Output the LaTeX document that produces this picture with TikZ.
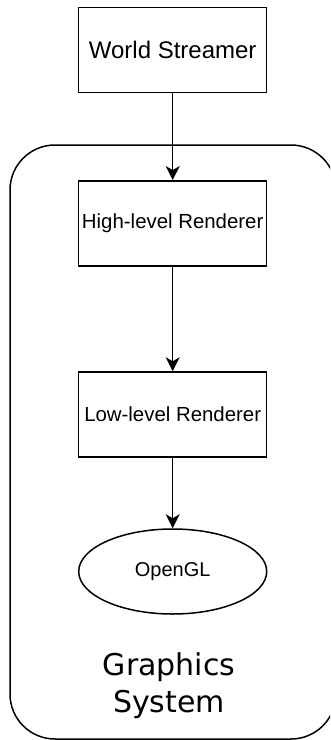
\documentclass[tikz,border=0pt]{standalone}
\usepackage{fontspec}
\setmainfont{Liberation Sans}
\newfontfamily\dejavu{DejaVu Sans}
\usetikzlibrary{shapes, arrows.meta, positioning}

\tikzset{
  caixa/.style={draw, line width=1.5pt, minimum width=188pt, minimum height=85pt, inner sep=0pt},
  elipse/.style={draw, ellipse, line width=1.5pt, minimum width=188pt, minimum height=85pt, inner sep=0pt},
  seta/.style={line width=1.5pt, -{Stealth[length=14pt, width=14pt, inset=4pt]}}
}

\begin{document}
\begin{tikzpicture}[x=1pt, y=-1pt]
			\useasboundingbox (0,0) rectangle (330,740);
			\clip (0,0) rectangle (330,740);
			
			% sistema grafico
			\draw[line width=1.5pt, rounded corners=45pt] (10,145) rectangle (336,739);
			\node[anchor=north, align=center, inner sep=0pt, font=\dejavu\fontsize{30}{37}\selectfont] (sistema) at (169,652) {Graphics\\System};
			
			% caixas
			\node[caixa, font=\fontsize{24}{28}\selectfont] (streamer) at (172.7,50) {World Streamer};
			\node[caixa, font=\fontsize{20.4}{24}\selectfont] (high) at (172.7,223.3) {High-level Renderer};
			\node[caixa, font=\fontsize{20.4}{24}\selectfont] (low) at (172.7,414.5) {Low-level Renderer};
			\node[elipse, font=\fontsize{20}{24}\selectfont] (opengl) at (172.7,571.5) {OpenGL};
			
			% setas
			\draw[seta] (streamer)--(high);
			\draw[seta] (high)--(low);
			\draw[seta] (low)--(opengl);
		\end{tikzpicture}
\end{document}
